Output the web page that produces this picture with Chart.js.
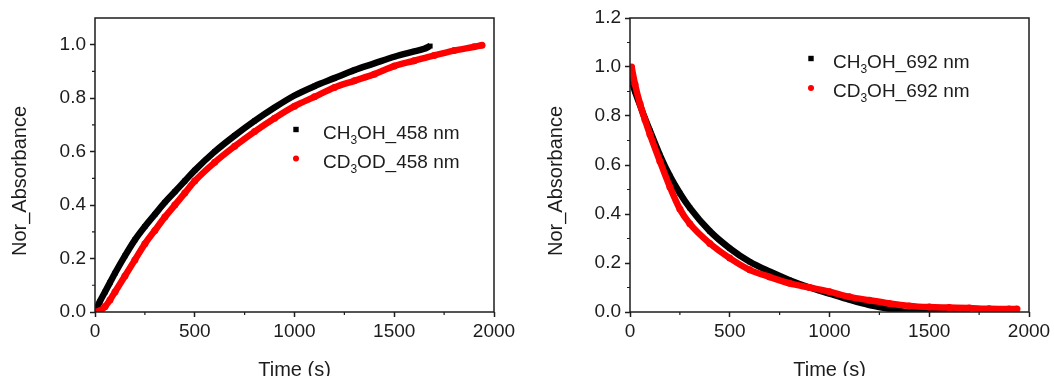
<!DOCTYPE html>
<html>
<head>
<meta charset="utf-8">
<title>Nor_Absorbance vs time</title>
<script src="https://cdn.jsdelivr.net/npm/chart.js@4"></script>
<style>
  body { margin: 0; background: #fff; }
  .wrap { position: relative; width: 1054px; height: 376px; }
  .panel { position: absolute; top: 0; width: 527px; height: 376px; }
</style>
</head>
<body>
<div class="wrap">
  <div class="panel" style="left:0"><canvas id="chartLeft"></canvas></div>
  <div class="panel" style="left:527px"><canvas id="chartRight"></canvas></div>
</div>
<script>
// ---- data (time in s, normalised absorbance) ----

// left panel: growth at 458 nm
const timeCH3OH458 = [0, 25, 50, 75, 100, 150, 200, 250, 300, 350, 400, 450, 500, 600, 700, 800, 900, 1000, 1100, 1200, 1300, 1400, 1500, 1600, 1650, 1680];
const absCH3OH458 = [0.00, 0.04, 0.075, 0.11, 0.145, 0.21, 0.27, 0.32, 0.365, 0.41, 0.45, 0.49, 0.53, 0.60, 0.66, 0.715, 0.765, 0.81, 0.845, 0.875, 0.905, 0.93, 0.955, 0.975, 0.985, 0.995];

const timeCD3OD458 = [0, 25, 50, 75, 100, 150, 200, 250, 300, 350, 400, 450, 500, 600, 700, 800, 900, 1000, 1100, 1200, 1300, 1400, 1500, 1600, 1700, 1800, 1900, 1940];
const absCD3OD458 = [0.00, 0.005, 0.02, 0.045, 0.075, 0.135, 0.195, 0.255, 0.305, 0.355, 0.40, 0.445, 0.49, 0.56, 0.62, 0.675, 0.725, 0.77, 0.805, 0.84, 0.865, 0.89, 0.92, 0.94, 0.96, 0.978, 0.992, 0.998];

// right panel: decay at 692 nm
const timeCH3OH692 = [5, 25, 50, 75, 100, 150, 200, 250, 300, 400, 500, 600, 700, 800, 900, 1000, 1100, 1200, 1300, 1350, 1400, 1500, 1600, 1690];
const absCH3OH692 = [0.95, 0.90, 0.845, 0.79, 0.74, 0.64, 0.555, 0.485, 0.425, 0.33, 0.26, 0.205, 0.165, 0.13, 0.10, 0.075, 0.05, 0.028, 0.013, 0.005, 0.0, 0.0, 0.0, 0.0];

const timeCD3OH692 = [8, 25, 50, 75, 100, 150, 200, 250, 300, 400, 500, 600, 700, 800, 900, 1000, 1100, 1200, 1300, 1400, 1500, 1600, 1700, 1800, 1900, 1940];
const absCD3OH692 = [1.0, 0.93, 0.85, 0.785, 0.725, 0.615, 0.51, 0.42, 0.36, 0.28, 0.22, 0.172, 0.143, 0.117, 0.10, 0.083, 0.062, 0.048, 0.035, 0.025, 0.02, 0.018, 0.016, 0.013, 0.012, 0.012];

// tick positions
const xTicks = [0, 500, 1000, 1500, 2000];
const xMinorTicks = [250, 750, 1250, 1750];
const yTicksLeft = [0, 0.2, 0.4, 0.6, 0.8, 1.0];
const yMinorLeft = [0.1, 0.3, 0.5, 0.7, 0.9];
const yTicksRight = [0, 0.2, 0.4, 0.6, 0.8, 1.0, 1.2];
const yMinorRight = [0.1, 0.3, 0.5, 0.7, 0.9, 1.1];

const xTitle = 'Time (s)';
const yTitle = 'Nor_Absorbance';

const FONT = "'Liberation Sans', Arial, sans-serif";
const INK = '#1c1c1c';

// turns two arrays into {x, y} points for a scatter dataset
function toPoints(times, values) {
  return times.map((t, i) => ({ x: t, y: values[i] }));
}

// a dense-looking series: thick smooth line plus the markers on top
function series(label, times, values, color, style, order) {
  return {
    label: label,
    data: toPoints(times, values),
    showLine: true,
    borderColor: color,
    borderWidth: 6.5,
    cubicInterpolationMode: 'monotone',
    pointStyle: style,
    pointRadius: 3.5,
    pointBorderWidth: 0,
    pointBackgroundColor: color,
    order: order
  };
}

// draws a label where '₃' is rendered as a proper small lowered 3
function drawSubLabel(ctx, text, x, baseline) {
  const parts = text.split('₃');
  ctx.textAlign = 'left';
  ctx.textBaseline = 'alphabetic';
  let cx = x;
  parts.forEach((p, i) => {
    ctx.font = '19px ' + FONT;
    ctx.fillText(p, cx, baseline);
    cx += ctx.measureText(p).width;
    if (i < parts.length - 1) {
      ctx.font = '12px ' + FONT;
      ctx.fillText('3', cx, baseline + 5);
      cx += ctx.measureText('3').width;
    }
  });
}

// box around the plot, minor ticks, legend and the axis titles
const framePlugin = {
  id: 'frame',
  afterDatasetsDraw(chart, args, opts) {
    const ctx = chart.ctx;
    const a = chart.chartArea;
    const x = chart.scales.x;
    const y = chart.scales.y;
    ctx.save();
    ctx.strokeStyle = INK;
    ctx.lineWidth = 1.5;
    ctx.strokeRect(a.left, a.top, a.right - a.left, a.bottom - a.top);

    // minor ticks, shorter than the major ones, pointing out
    ctx.lineWidth = 1.2;
    ctx.beginPath();
    xMinorTicks.forEach(v => {
      const px = x.getPixelForValue(v);
      ctx.moveTo(px, a.bottom);
      ctx.lineTo(px, a.bottom + 3);
    });
    opts.yMinor.forEach(v => {
      const py = y.getPixelForValue(v);
      ctx.moveTo(a.left, py);
      ctx.lineTo(a.left - 3, py);
    });
    ctx.stroke();

    // legend (black first, like the dataset list)
    chart.data.datasets.forEach((ds, i) => {
      const my = opts.legendY + i * opts.legendStep;
      ctx.fillStyle = ds.borderColor;
      if (ds.pointStyle === 'rect') {
        ctx.fillRect(opts.markerX - 2.7, my - 2.7, 5.4, 5.4);
      } else {
        ctx.beginPath();
        ctx.arc(opts.markerX, my, 3, 0, Math.PI * 2);
        ctx.fill();
      }
      ctx.fillStyle = INK;
      drawSubLabel(ctx, ds.label, opts.textX, my + 9);
    });

    // axis titles
    ctx.font = '20px ' + FONT;
    ctx.fillStyle = INK;
    ctx.textAlign = 'center';
    ctx.textBaseline = 'alphabetic';
    ctx.fillText(xTitle, (a.left + a.right) / 2, 376);

    ctx.translate(opts.yTitleX, 181);
    ctx.rotate(-Math.PI / 2);
    ctx.textBaseline = 'middle';
    ctx.fillText(yTitle, 0, 0);
    ctx.restore();
  }
};

function makeOptions(cfg) {
  const tickFont = { family: FONT, size: 19 };
  return {
    responsive: true,
    maintainAspectRatio: false,
    animation: false,
    layout: { padding: { left: 0, top: 18, right: 527 - cfg.areaRight, bottom: 0 } },
    plugins: {
      legend: { display: false },
      tooltip: { enabled: false },
      frame: cfg.frame
    },
    scales: {
      x: {
        type: 'linear',
        min: 0,
        max: 2000,
        afterBuildTicks: s => { s.ticks = xTicks.map(v => ({ value: v })); },
        afterFit: s => { s.height = 64; },
        ticks: { font: tickFont, color: INK, padding: 3, maxRotation: 0, callback: v => String(v) },
        grid: { drawOnChartArea: false, drawTicks: true, tickLength: 5, tickColor: INK, tickWidth: 1.5 },
        border: { display: false }
      },
      y: {
        type: 'linear',
        min: 0,
        max: cfg.yMax,
        afterBuildTicks: s => { s.ticks = cfg.yTicks.map(v => ({ value: v })); },
        afterFit: s => { s.width = cfg.areaLeft; },
        ticks: { font: tickFont, color: INK, padding: 4, callback: v => v.toFixed(1) },
        grid: { drawOnChartArea: false, drawTicks: true, tickLength: 5, tickColor: INK, tickWidth: 1.5 },
        border: { display: false }
      }
    }
  };
}

// left chart: CH3OH vs CD3OD at 458 nm
new Chart(document.getElementById('chartLeft'), {
  type: 'scatter',
  data: {
    datasets: [
      series('CH₃OH_458 nm', timeCH3OH458, absCH3OH458, '#000000', 'rect', 1),
      series('CD₃OD_458 nm', timeCD3OD458, absCD3OD458, '#ff0000', 'circle', 0)
    ]
  },
  options: makeOptions({
    yMax: 1.1, yTicks: yTicksLeft, areaLeft: 95, areaRight: 494,
    frame: { yMinor: yMinorLeft, markerX: 296, textX: 323, legendY: 129.5, legendStep: 29, yTitleX: 20 }
  }),
  plugins: [framePlugin]
});

// right chart: CH3OH vs CD3OH at 692 nm
new Chart(document.getElementById('chartRight'), {
  type: 'scatter',
  data: {
    datasets: [
      series('CH₃OH_692 nm', timeCH3OH692, absCH3OH692, '#000000', 'rect', 1),
      series('CD₃OH_692 nm', timeCD3OH692, absCD3OH692, '#ff0000', 'circle', 0)
    ]
  },
  options: makeOptions({
    yMax: 1.2, yTicks: yTicksRight, areaLeft: 103, areaRight: 502,
    frame: { yMinor: yMinorRight, markerX: 284, textX: 306, legendY: 58.5, legendStep: 29.5, yTitleX: 29 }
  }),
  plugins: [framePlugin]
});
</script>
</body>
</html>
